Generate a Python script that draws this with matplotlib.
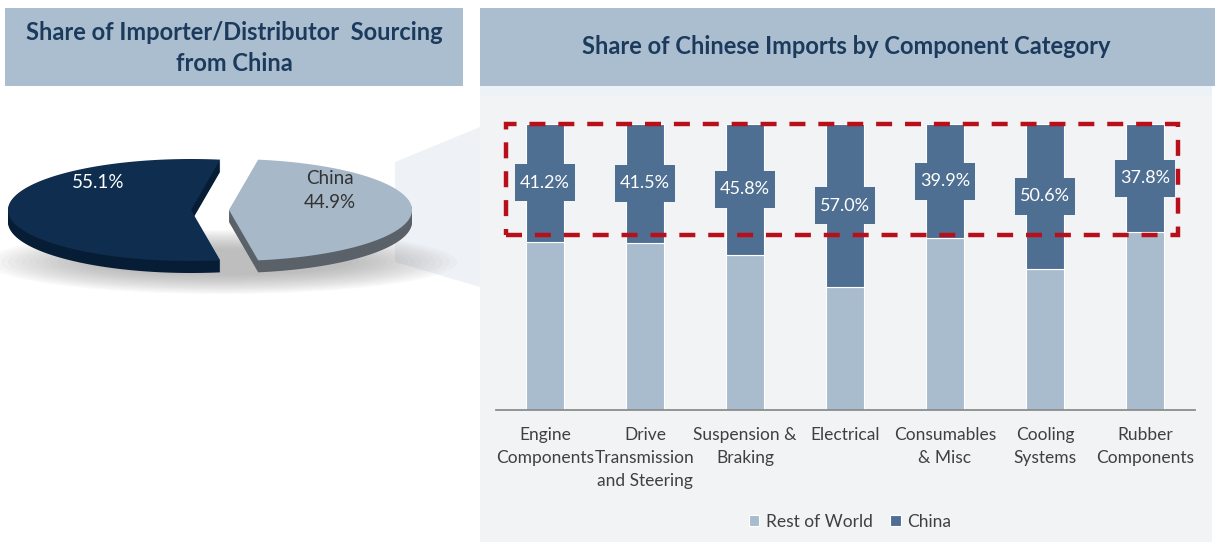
import matplotlib.pyplot as plt
import numpy as np
from matplotlib.patches import Ellipse, Polygon, Rectangle

plt.rcParams["font.family"] = ["Lato", "DejaVu Sans"]

# Left panel: overall sourcing split
pie_labels = ["Rest of World", "China"]
pie_shares = [55.1, 44.9]

# Right panel: Chinese share per component category
categories = [
    "Engine\nComponents",
    "Drive\nTransmission\nand Steering",
    "Suspension &\nBraking",
    "Electrical",
    "Consumables\n& Misc",
    "Cooling\nSystems",
    "Rubber\nComponents",
]
china_share = [41.2, 41.5, 45.8, 57.0, 39.9, 50.6, 37.8]
rest_share = [100 - v for v in china_share]

NAVY_TEXT = "#1c3a5c"
HEADER_BG = "#abbecf"
PANEL_BG = "#f2f3f5"
CHINA_COL = "#4f6f92"
ROW_COL = "#a9bccd"
RED = "#b8101a"

fig = plt.figure(figsize=(12.15, 5.46), dpi=100)
fig.patch.set_facecolor("white")

# pixel-space canvas for the boxes, the pie and the callout
bg = fig.add_axes([0, 0, 1, 1])
bg.set_xlim(0, 1215)
bg.set_ylim(546, 0)
bg.axis("off")

bg.add_patch(Rectangle((5, 8), 458, 78, color=HEADER_BG, lw=0))
bg.add_patch(Rectangle((480, 8), 735, 78, color=HEADER_BG, lw=0))
bg.add_patch(Rectangle((480, 86), 732, 456, color=PANEL_BG, lw=0))
bg.add_patch(Rectangle((480, 86), 732, 10, color="#edf2f7", lw=0))
bg.add_patch(Polygon([(395, 162), (480, 127), (480, 287), (395, 262)],
                     closed=True, color="#eef1f5", lw=0))

bg.text(234, 48, "Share of Importer/Distributor  Sourcing\nfrom China", ha="center", va="center",
        fontsize=17, fontweight="bold", color=NAVY_TEXT, linespacing=1.4)
bg.text(846, 47, "Share of Chinese Imports by Component Category", ha="center", va="center",
        fontsize=17, fontweight="bold", color=NAVY_TEXT)

# --- flattened 3D pie ---
CX, CY, RX, RY = 210, 210, 183, 51
THICK, EXPLODE = 12, 19
top_cols = ["#0f2d4f", "#a7b8c8"]
side_cols = ["#071d35", "#5a6169"]

# soft shadow under the pie
for k in range(16):
    bg.add_patch(Ellipse((222, 262), 470 - k * 14, 64 - k * 2.5, color="#8a8a8a", alpha=0.045, lw=0))


def wedge_pts(cx, cy, t1, t2):
    t = np.radians(np.linspace(t1, t2, 160))
    xs = np.r_[cx, cx + RX * np.cos(t)]
    ys = np.r_[cy, cy - RY * np.sin(t)]
    return np.column_stack([xs, ys])


spans = [360 * s / sum(pie_shares) for s in pie_shares]
start = 180 - spans[0] / 2
for span, top_c, side_c in zip(spans, top_cols, side_cols):
    mid = np.radians(start + span / 2)
    cx = CX + EXPLODE * np.cos(mid)
    cy = CY - EXPLODE * np.sin(mid) * RY / RX
    for k in range(THICK, 0, -1):
        bg.add_patch(Polygon(wedge_pts(cx, cy + k, start, start + span), closed=True, color=side_c, lw=0))
    bg.add_patch(Polygon(wedge_pts(cx, cy, start, start + span), closed=True, color=top_c, lw=0))
    start += span

bg.text(98, 183, f"{pie_shares[0]:.1f}%", ha="center", va="center", fontsize=13.5, color="white")
bg.text(330, 190, f"{pie_labels[1]}\n{pie_shares[1]:.1f}%", ha="center", va="center",
        fontsize=13.5, color="#333333", linespacing=1.5)

# --- stacked bars ---
ax = fig.add_axes([496 / 1215, (546 - 410) / 546, (1195 - 496) / 1215, 286 / 546])
ax.set_facecolor("none")
x = np.arange(len(categories))
ax.bar(x, rest_share, width=0.38, color=ROW_COL, edgecolor="white", linewidth=0.8, label="Rest of World")
ax.bar(x, china_share, width=0.38, bottom=rest_share, color=CHINA_COL, edgecolor="white", linewidth=0.8,
       label="China")

for xi, r, c in zip(x, rest_share, china_share):
    yc = r + c / 2
    ax.add_patch(Rectangle((xi - 0.3, yc - 6.45), 0.6, 12.9, color=CHINA_COL, lw=0, zorder=3))
    ax.text(xi, yc, f"{c:.1f}%", ha="center", va="center", color="white", fontsize=13, zorder=4)

# highlight band around the China segments
ax.add_patch(Rectangle((-0.39, 61.2), 6.72, 38.8, fill=False, edgecolor=RED, lw=3.2,
                       linestyle=(0, (3.6, 2.9)), zorder=5, clip_on=False))

ax.set_xlim(-0.49, 6.5)
ax.set_ylim(0, 100)
ax.set_yticks([])
ax.set_xticks(x)
ax.set_xticklabels(categories, fontsize=12.5, color="#404040", linespacing=1.55)
ax.tick_params(axis="x", length=0, pad=12)
for side in ("top", "right", "left"):
    ax.spines[side].set_visible(False)
ax.spines["bottom"].set_color("#8c8c8c")
ax.spines["bottom"].set_linewidth(1.3)

ax.legend(loc="center", bbox_to_anchor=(850 / 1215, 1 - 522 / 546), bbox_transform=fig.transFigure,
          ncol=2, frameon=False, fontsize=12.5, handlelength=0.6, handleheight=0.6,
          columnspacing=1.0, handletextpad=0.4, labelcolor="#404040")

fig.savefig("out.png", dpi=100)
